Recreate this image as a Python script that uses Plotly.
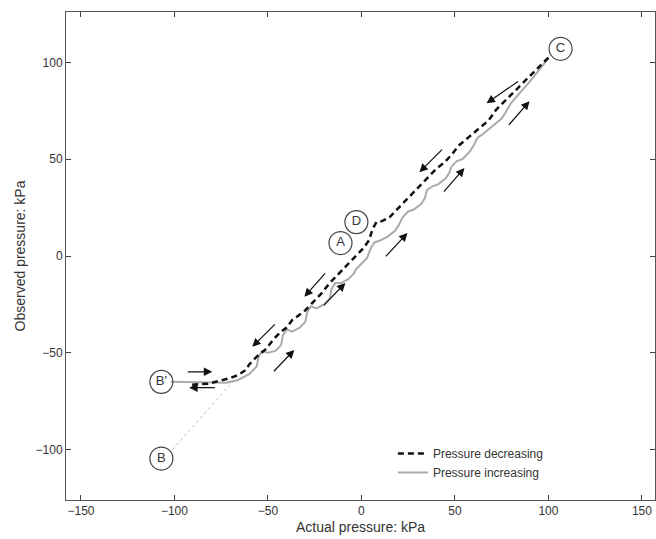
import plotly.graph_objects as go

# Pressure decreasing (from C down to B')
dec_x = [100, 90, 80, 72, 68, 62, 57, 52, 48, 44, 40, 35, 30, 26, 22, 18, 15, 11, 8, 6, 4, 1,
         -2, -6, -12, -17, -22, -26, -30, -34, -37, -40, -43, -47, -51, -56, -60, -62, -66,
         -70, -76, -82, -92]
dec_y = [102.5, 93, 83, 75.5, 70, 65, 61, 57, 52, 48, 45, 40, 35, 31, 27, 23, 20, 18, 17.5, 14,
         8, 4, 1, -3, -9, -14, -20, -24, -28, -31, -33, -37, -39, -43, -48, -52, -56, -59,
         -61.5, -63, -64.5, -66, -66.5]

# Pressure increasing (from B' up to C)
inc_x = [-102, -72, -66, -60, -56, -55, -53, -50, -46, -43, -42, -40, -37, -33, -30, -29, -27,
         -24, -20, -17, -16, -14, -11, -7, -4, -3, 0, 3, 5, 7, 10, 14, 18, 20, 22, 25, 28,
         32, 34, 35, 38, 41, 45, 47, 48, 51, 54, 58, 60, 62, 65, 70, 75, 77, 80, 90, 100]
inc_y = [-65, -65.5, -64, -61, -57, -52, -49, -50, -49, -46, -41, -38, -39, -37, -34, -29, -26,
         -27, -25, -22, -17, -14, -14, -12, -9, -7, -4, -1, 4, 7, 8, 10, 13, 16, 20, 23, 24,
         27, 30, 34, 36, 37, 40, 43, 46, 49, 50, 54, 57, 61, 63, 67, 71, 74, 79, 90, 102]

# Dotted link B -> B'
link_x = [-101, -68]
link_y = [-100, -64]

# Circled point labels
lab_text = ["C", "D", "A", "B'", "B"]
lab_x = [106.5, -2.7, -11.2, -107, -107]
lab_y = [107, 17.5, 6.7, -65, -104.6]

# Direction arrows: (tail_x, tail_y, head_x, head_y)
arrows = [
    (84.6, 90.7, 66.9, 78.9), (43.9, 55.7, 31.0, 43.3), (-18.7, -8.2, -30.5, -21.1),
    (-45.5, -34.5, -58.4, -46.9), (-77.6, -68.0, -92.1, -68.0),
    (78.2, 67.0, 89.9, 79.9), (43.4, 32.5, 55.1, 45.4), (12.3, -1.0, 24.6, 11.9),
    (-20.9, -26.3, -8.6, -13.9), (-47.6, -60.3, -35.9, -48.5), (-93.7, -59.8, -79.8, -59.8),
]

x_ticks = [-150, -100, -50, 0, 50, 100, 150]
y_ticks = [-100, -50, 0, 50, 100]

fig = go.Figure()
fig.add_trace(go.Scatter(x=link_x, y=link_y, mode="lines",
                         line=dict(color="#bbbbbb", width=1, dash="dot"),
                         showlegend=False, hoverinfo="skip"))
fig.add_trace(go.Scatter(x=inc_x, y=inc_y, mode="lines", name="Pressure increasing",
                         line=dict(color="#aaaaaa", width=2)))
fig.add_trace(go.Scatter(x=dec_x, y=dec_y, mode="lines", name="Pressure decreasing",
                         line=dict(color="#111111", width=2.5, dash="6px,4px")))
fig.add_trace(go.Scatter(x=lab_x, y=lab_y, mode="markers+text", text=lab_text,
                         textposition="middle center",
                         textfont=dict(size=13, color="#333333", family="Liberation Sans, Arial"),
                         marker=dict(symbol="circle-open", size=23, color="#444444",
                                     line=dict(width=1.2, color="#444444")),
                         showlegend=False, hoverinfo="skip"))

for tx, ty, hx, hy in arrows:
    fig.add_annotation(x=hx, y=hy, ax=tx, ay=ty, xref="x", yref="y", axref="x", ayref="y",
                       showarrow=True, arrowhead=2, arrowsize=1.4, arrowwidth=1.2,
                       arrowcolor="#111111", text="")

fig.update_layout(
    width=656, height=539,
    margin=dict(l=66, r=1, t=12, b=39),
    paper_bgcolor="white", plot_bgcolor="white",
    font=dict(family="Liberation Sans, Arial", size=12, color="#333333"),
    legend=dict(x=0.555, y=0.125, xanchor="left", yanchor="top",
                bgcolor="rgba(0,0,0,0)", traceorder="reversed",
                font=dict(size=12, color="#333333")),
    xaxis=dict(range=[-158, 157], tickvals=x_ticks, ticktext=["\u2212150", "\u2212100", "\u221250", "0", "50", "100", "150"],
               ticks="inside", ticklen=5, mirror="ticks", showline=True,
               linecolor="#555555", linewidth=1, showgrid=False, zeroline=False,
               title=dict(text="Actual pressure: kPa", standoff=4)),
    yaxis=dict(range=[-126, 126], tickvals=y_ticks, ticktext=["\u2212100", "\u221250", "0", "50", "100"],
               ticks="inside", ticklen=5, mirror="ticks", showline=True,
               linecolor="#555555", linewidth=1, showgrid=False, zeroline=False,
               title=dict(text="Observed pressure: kPa", standoff=6)),
)

fig.write_html("out.html", config={"displayModeBar": False},
               post_script="document.body.style.margin='0';document.body.style.overflow='hidden';")
